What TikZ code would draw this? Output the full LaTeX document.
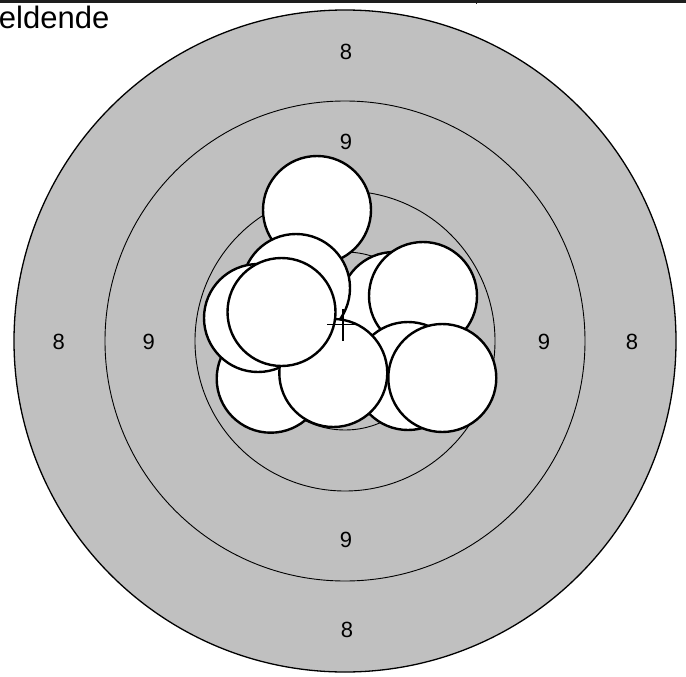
\documentclass[tikz,border=0pt]{standalone}
\usepackage{fontspec}
\setmainfont{Liberation Sans}
\definecolor{ringgray}{HTML}{C0C0C0}
\definecolor{barcol}{HTML}{1E1E1E}
\begin{document}
\begin{tikzpicture}[x=1pt,y=-1pt,
  ring/.style={draw=black,line width=0.9pt},
  shot/.style={draw=black,fill=white,line width=2.4pt},
  lbl/.style={inner sep=0pt,font=\fontsize{22}{22}\selectfont},
  crossline/.style={draw=black,line width=1.1pt}]
\useasboundingbox (0,0) rectangle (686,677);
% top bar
\fill[barcol] (0,0) rectangle (686,2.7);
\draw[barcol,line width=0.9pt] (476,0) -- (476,3.6);
% title
\node[anchor=base east,inner sep=0pt,font=\fontsize{31}{31}\selectfont] (title) at (109.5,28.5) {eldende};
% rings
\coordinate (c) at (345,341);
\fill[ringgray] (c) circle[radius=331];
\draw[black,line width=1.3pt] (c) circle[radius=331];
\draw[ring] (c) circle[radius=240];
\draw[ring] (c) circle[radius=150];
\draw[ring] (c) circle[radius=89];
% ring labels
\node[lbl] (t8) at (346,52) {8};
\node[lbl] (t9) at (346,142) {9};
\node[lbl] (b9) at (346,540) {9};
\node[lbl] (b8) at (347,630) {8};
\node[lbl] (l8) at (58.7,341.5) {8};
\node[lbl] (l9) at (148.7,341.5) {9};
\node[lbl] (r9) at (544,341.5) {9};
\node[lbl] (r8) at (632,341.5) {8};
% shots (bottom to top)
\draw[shot] (317,210) circle[radius=54];
\draw[shot] (394,306) circle[radius=54];
\draw[shot] (423,296) circle[radius=54];
\draw[shot] (408,376) circle[radius=54];
\draw[shot] (442.3,378) circle[radius=54];
\draw[shot] (296,288) circle[radius=54];
\draw[shot] (270.7,378.7) circle[radius=54];
\draw[shot] (258,318) circle[radius=54];
\draw[shot] (333.3,373) circle[radius=54];
\draw[shot] (281.5,312) circle[radius=54];
% cross
\coordinate (m) at (343,324.5);
\draw[crossline] ([xshift=-16pt]m) -- ([xshift=16pt]m);
\draw[crossline] ([yshift=-16pt]m) -- ([yshift=16pt]m);
\end{tikzpicture}
\end{document}
